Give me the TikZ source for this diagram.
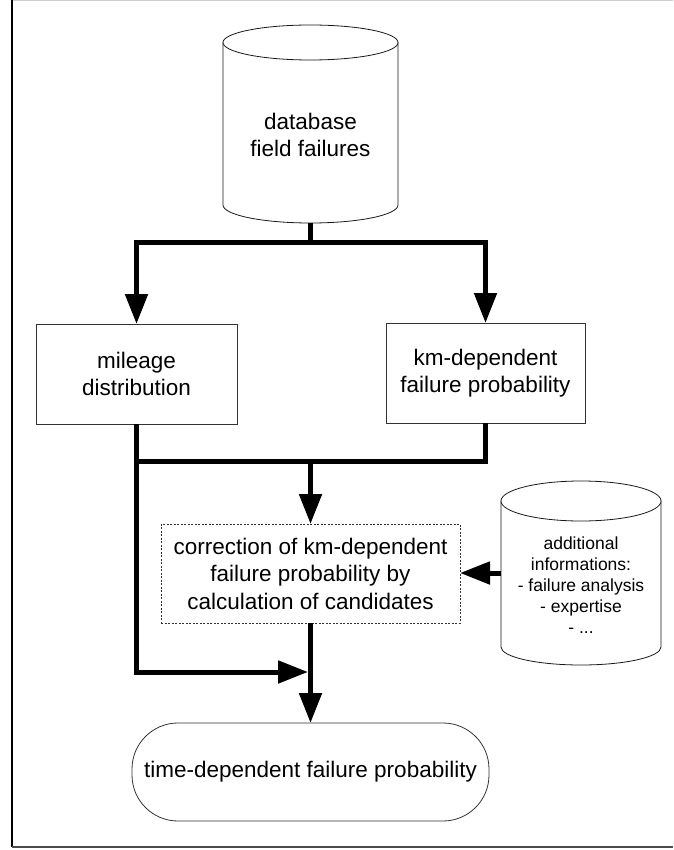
\documentclass[tikz,border=0pt]{standalone}
\usepackage{fontspec}
\setmainfont{Liberation Sans}
\usetikzlibrary{arrows.meta}
\begin{document}
\begin{tikzpicture}[x=1pt,y=1pt,
  boxst/.style={draw=black!80,line width=0.8pt,fill=white,inner sep=0pt,outer sep=0pt,align=center,
    font=\fontsize{22.5}{27.5}\selectfont},
  dashst/.style={boxst,dash pattern=on 2pt off 1.5pt,line width=0.7pt},
  termst/.style={boxst,rounded corners=46pt},
  cylst/.style={draw=black!90,line width=0.8pt,fill=white},
  smalltext/.style={inner sep=0pt,align=center,font=\fontsize{17.5}{21}\selectfont},
  bigtext/.style={inner sep=0pt,align=center,font=\fontsize{22.5}{27.5}\selectfont},
  flow/.style={line width=5pt,draw=black},
  flowarr/.style={flow,-{Triangle[width=22pt,length=30pt]}}]
\useasboundingbox (0,0) rectangle (673,-850);
% frame
\draw[gray!40,line width=1.2pt] (12,-0.6) -- (673,-0.6);
\draw[black,line width=1.5pt] (12,0) -- (12,-847);
\draw[black!70,line width=1.5pt] (12,-847) -- (673,-847);
% top cylinder
\filldraw[cylst] (223,-42.5) -- (223,-205) arc[start angle=180,end angle=360,x radius=87.5,y radius=18] -- (398,-42.5) -- cycle;
\filldraw[cylst] (310.5,-42.5) ellipse[x radius=87.5,y radius=17.5];
\node[bigtext] (db) at (310.5,-135) {database\\field failures};
\coordinate (dbb) at (310.5,-223);
% right cylinder
\filldraw[cylst] (501,-501) -- (501,-647) arc[start angle=180,end angle=360,x radius=80,y radius=18] -- (661,-501) -- cycle;
\filldraw[cylst] (581,-501) ellipse[x radius=80,y radius=20];
\node[smalltext] (add) at (581,-585) {additional\\informations:\\- failure analysis\\- expertise\\- ...};
\coordinate (addw) at (501,-573);
% boxes
\node[boxst,minimum width=201pt,minimum height=100pt] (mil) at (136.5,-374) {mileage\\distribution};
\node[boxst,minimum width=199pt,minimum height=100pt] (km) at (485.5,-373) {km-dependent\\failure probability};
\node[dashst,minimum width=299pt,minimum height=99pt] (corr) at (310.5,-573.5) {correction of km-dependent\\failure probability by\\calculation of candidates};
\node[termst,minimum width=357pt,minimum height=98pt] (term) at (310.5,-772) {time-dependent failure probability};
% connectors
\coordinate (split) at (310.5,-242);
\coordinate (j1) at (310.5,-461);
\coordinate (j2) at (308,-672);
\draw[flow] (dbb) -- (split);
\draw[flowarr] (split) -| (mil.north);
\draw[flowarr] (split) -| (km.north);
\draw[flow] (km.south) |- (mil.south |- j1);
\draw[flowarr] (j1) -- (corr.north);
\draw[flowarr] (mil.south) |- (j2);
\draw[flowarr] (corr.south) -- (term.north);
\draw[flowarr] (addw) -- (corr.east |- addw);
\end{tikzpicture}
\end{document}
